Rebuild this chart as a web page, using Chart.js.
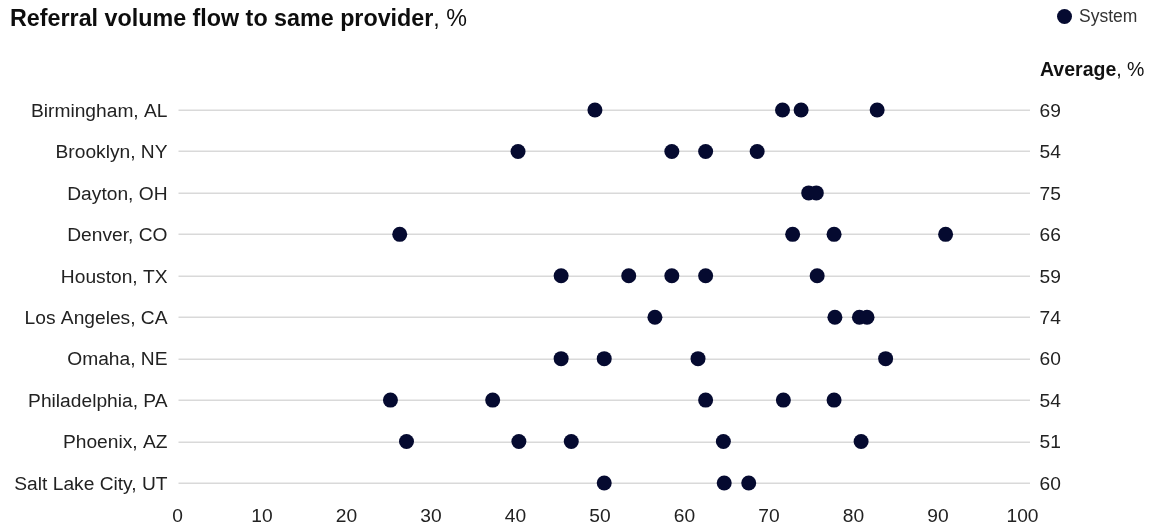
<!DOCTYPE html>
<html>
<head>
<meta charset="utf-8">
<title>Referral volume flow to same provider</title>
<script src="https://cdn.jsdelivr.net/npm/chart.js@4.4.1/dist/chart.umd.min.js"></script>
<style>
  html, body { margin: 0; padding: 0; background: #fff; }
  #wrap { position: relative; width: 1160px; height: 529px; font-family: "Liberation Sans", Arial, sans-serif; color: #111; }
  #chart { position: absolute; left: 0; top: 0; }
  #title { position: absolute; left: 10px; top: 7px; font-size: 23.3px; line-height: 23px; font-weight: 700; white-space: nowrap; color: #0d0d0d; }
  #title span { font-weight: 400; }
  #legend { position: absolute; left: 1057px; top: 6px; font-size: 17.5px; line-height: 20px; color: #333; display: flex; align-items: center; }
  #legend i { display: inline-block; width: 15px; height: 15px; border-radius: 50%; background: #050a30; margin-right: 7px; }
  #avgHead { position: absolute; left: 1040px; top: 58px; font-size: 19.5px; line-height: 22px; white-space: nowrap; color: #111; }
  #avgHead b { font-weight: 700; }
</style>
</head>
<body>
<div id="wrap">
  <canvas id="chart" width="1160" height="529"></canvas>
  <div id="title">Referral volume flow to same provider<span>, %</span></div>
  <div id="legend"><i></i>System</div>
  <div id="avgHead"><b>Average</b>, %</div>
</div>
<script>
// Metro areas, top to bottom
const cities = [
  'Birmingham, AL', 'Brooklyn, NY', 'Dayton, OH', 'Denver, CO', 'Houston, TX',
  'Los Angeles, CA', 'Omaha, NE', 'Philadelphia, PA', 'Phoenix, AZ', 'Salt Lake City, UT'
];

// Share of referral volume kept within the same provider, per health system (%)
const birmingham   = [49.4, 71.6, 73.8, 82.8];
const brooklyn     = [40.3, 58.5, 62.5, 68.6];
const dayton       = [74.7, 75.6];
const denver       = [26.3, 72.8, 77.7, 90.9];
const houston      = [45.4, 53.4, 58.5, 62.5, 75.7];
const losAngeles   = [56.5, 77.8, 80.7, 81.6];
const omaha        = [45.4, 50.5, 61.6, 83.8];
const philadelphia = [25.2, 37.3, 62.5, 71.7, 77.7];
const phoenix      = [27.1, 40.4, 46.6, 64.6, 80.9];
const saltLakeCity = [50.5, 64.7, 67.6];

// Market averages shown on the right (%)
const averages = [69, 54, 75, 66, 59, 74, 60, 54, 51, 60];

// Value axis ticks
const xTicks = [0, 10, 20, 30, 40, 50, 60, 70, 80, 90, 100];

const systemsByCity = [birmingham, brooklyn, dayton, denver, houston,
                       losAngeles, omaha, philadelphia, phoenix, saltLakeCity];

const points = [];
systemsByCity.forEach((vals, i) => {
  vals.forEach(v => points.push({ x: v, y: cities[i] }));
});

const NAVY = '#050a30';
const TEXT = '#222222';
const FONT = '"Liberation Sans", Arial, sans-serif';
const LABEL_SIZE = 19.2;

// Horizontal rules behind the dots, one per city
const rowRules = {
  id: 'rowRules',
  beforeDatasetsDraw(chart) {
    const { ctx, scales: { x, y } } = chart;
    const x0 = x.getPixelForValue(0) + 1;
    const x1 = x.getPixelForValue(100) + 7.5;
    ctx.save();
    ctx.strokeStyle = '#d9d9d9';
    ctx.lineWidth = 1.5;
    cities.forEach((c, i) => {
      const py = Math.round(y.getPixelForValue(i)) + 0.25;
      ctx.beginPath();
      ctx.moveTo(x0, py);
      ctx.lineTo(x1, py);
      ctx.stroke();
    });
    ctx.restore();
  }
};

new Chart(document.getElementById('chart'), {
  type: 'scatter',
  data: {
    datasets: [{
      label: 'System',
      data: points,
      backgroundColor: NAVY,
      borderWidth: 0,
      pointRadius: 7.5,
      pointHoverRadius: 7.5,
      clip: false
    }]
  },
  plugins: [rowRules],
  options: {
    responsive: false,
    animation: false,
    events: [],
    layout: { padding: { top: 110, left: 0, right: 0, bottom: 0 } },
    plugins: {
      legend: { display: false },
      title: { display: false },
      tooltip: { enabled: false }
    },
    scales: {
      x: {
        type: 'linear',
        min: 0,
        max: 100,
        afterBuildTicks(scale) { scale.ticks = xTicks.map(v => ({ value: v })); },
        grid: { display: false, drawTicks: false },
        border: { display: false },
        ticks: { color: TEXT, font: { family: FONT, size: LABEL_SIZE }, padding: 22, maxRotation: 0, autoSkip: false },
        afterFit(scale) { scale.height = 46; }
      },
      y: {
        type: 'category',
        labels: cities,
        position: 'left',
        offset: false,
        grid: { display: false, drawTicks: false },
        border: { display: false },
        ticks: { color: TEXT, font: { family: FONT, size: LABEL_SIZE }, padding: 10, labelOffset: 1.5, autoSkip: false },
        afterFit(scale) { scale.width = 177.5; }
      },
      yAvg: {
        type: 'category',
        labels: averages.map(String),
        position: 'right',
        offset: false,
        grid: { display: false, drawTicks: false },
        border: { display: false },
        ticks: { color: TEXT, font: { family: FONT, size: LABEL_SIZE }, padding: 17, labelOffset: 1.5, autoSkip: false },
        afterFit(scale) { scale.width = 137.5; }
      }
    }
  }
});
</script>
</body>
</html>
